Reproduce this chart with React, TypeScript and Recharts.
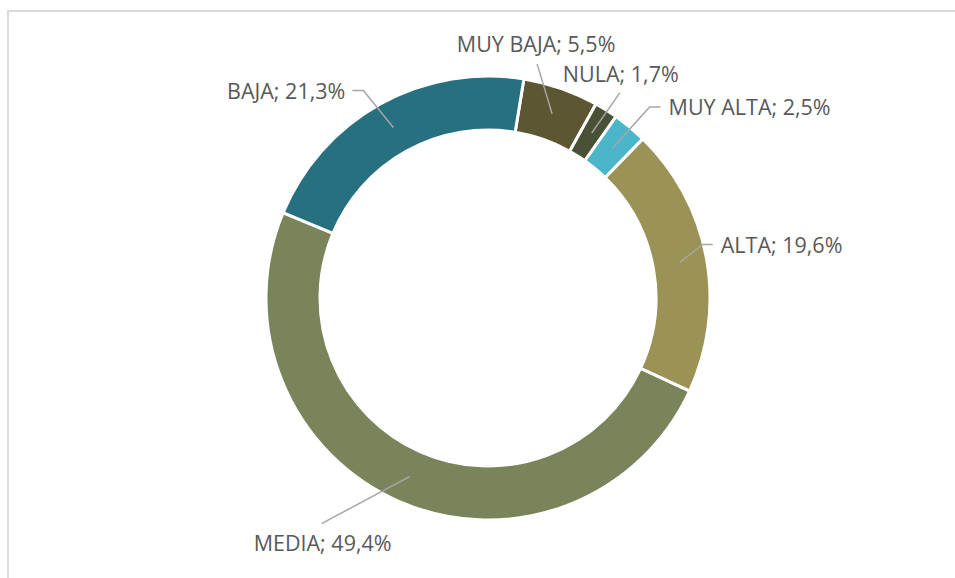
import React from "react";
import { PieChart, Pie, Cell } from "recharts";

const categories = ["MUY BAJA", "NULA", "MUY ALTA", "ALTA", "MEDIA", "BAJA"];
const shares = [5.5, 1.7, 2.5, 19.6, 49.4, 21.3];
const colors = ["#5c5632", "#485136", "#4bb5ca", "#9b9256", "#7a845b", "#27707f"];

const data = categories.map((name, i) => ({ name, value: shares[i] }));

// label layout: elbow offset from slice mid-point, horizontal run, text anchor & offset from line end
const labelLayout: Record<string, { dx: number; dy: number; h: number; anchor: "start" | "middle" | "end"; tx: number; ty: number }> = {
  "MUY BAJA": { dx: -15, dy: -50, h: 0, anchor: "middle", tx: -1, ty: -12 },
  NULA: { dx: 28, dy: -40, h: 0, anchor: "middle", tx: 1, ty: -11 },
  "MUY ALTA": { dx: 37, dy: -41, h: 11, anchor: "start", tx: 8, ty: 8 },
  ALTA: { dx: 23, dy: -18, h: 10, anchor: "start", tx: 8, ty: 9 },
  MEDIA: { dx: -88, dy: 47, h: 0, anchor: "middle", tx: 1, ty: 27 },
  BAJA: { dx: -30, dy: -37, h: -11, anchor: "end", tx: -7, ty: 8 },
};

const RAD = Math.PI / 180;

const renderLabel = (props: any) => {
  const { cx, cy, midAngle, innerRadius, outerRadius, name, value } = props;
  const r = (innerRadius + outerRadius) / 2;
  const px = cx + r * Math.cos(-midAngle * RAD);
  const py = cy + r * Math.sin(-midAngle * RAD);
  const L = labelLayout[name];
  const ex = px + L.dx;
  const ey = py + L.dy;
  const fx = ex + L.h;
  const fy = ey;
  const txt = `${name}; ${String(value.toFixed(1)).replace(".", ",")}%`;
  return (
    <g>
      <polyline
        points={`${px},${py} ${ex},${ey} ${fx},${fy}`}
        fill="none"
        stroke="#a6a6a6"
        strokeWidth={1.5}
      />
      <text
        x={fx + L.tx}
        y={fy + L.ty}
        textAnchor={L.anchor}
        fill="#595959"
        fontSize={21.5}
        fontFamily="'Open Sans', sans-serif"
      >
        {txt}
      </text>
    </g>
  );
};

export default function App() {
  return (
    <div
      style={{
        position: "fixed",
        left: 0,
        top: 0,
        width: 955,
        height: 578,
        overflow: "hidden",
        background: "#fff",
      }}
    >
      <div
        style={{
          position: "absolute",
          left: 7,
          top: 10,
          width: 1200,
          height: 1000,
          borderTop: "2px solid #dadada",
          borderLeft: "2px solid #dadada",
        }}
      />
      <div style={{ position: "absolute", left: 0, top: 0 }}>
        <PieChart width={955} height={578} margin={{ top: 0, right: 0, bottom: 0, left: 0 }}>
          <Pie
            data={data}
            dataKey="value"
            nameKey="name"
            cx={488}
            cy={298}
            innerRadius={168}
            outerRadius={222}
            startAngle={80.7}
            endAngle={-279.3}
            stroke="#ffffff"
            strokeWidth={3}
            isAnimationActive={false}
            labelLine={false}
            label={renderLabel}
          >
            {data.map((d, i) => (
              <Cell key={d.name} fill={colors[i]} />
            ))}
          </Pie>
        </PieChart>
      </div>
    </div>
  );
}
